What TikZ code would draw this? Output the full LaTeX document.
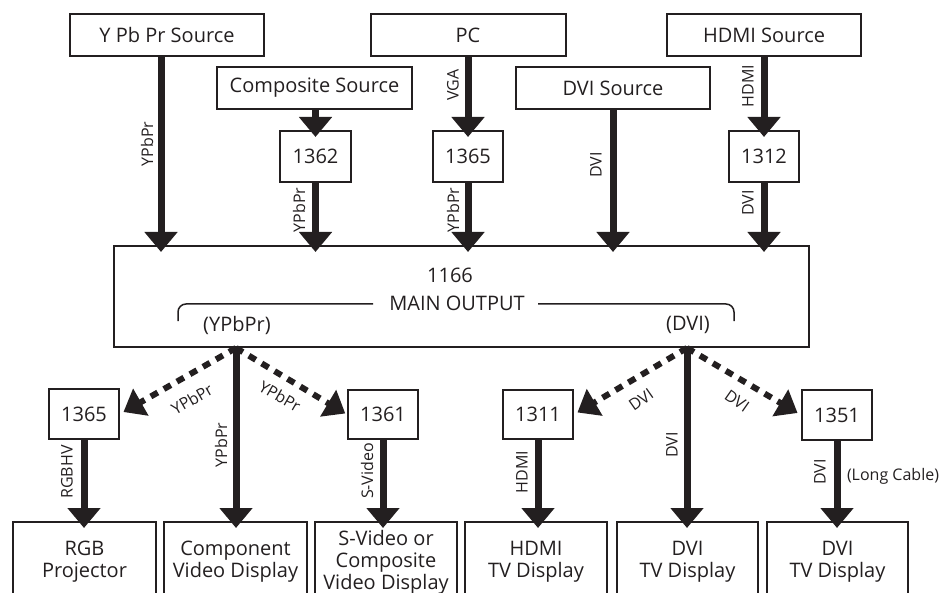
\documentclass[tikz,border=0pt]{standalone}
\usepackage{fontspec}
\setmainfont{Open Sans}
\usetikzlibrary{arrows.meta,calc}
\definecolor{ink}{HTML}{231F20}
\begin{document}
\begin{tikzpicture}[x=1pt,y=-1pt,
  box/.style={draw=ink, line width=2pt, inner sep=0pt, font=\fontsize{20}{22}\selectfont, text=ink, align=center},
  txt/.style={font=\fontsize{20}{22}\selectfont, text=ink, inner sep=0pt},
  lab/.style={font=\fontsize{16}{18}\selectfont, text=ink, inner sep=0pt},
  vlab/.style={lab, rotate=90},
  flow/.style={draw=ink, line width=7pt, -{Triangle[width=32pt,length=20pt]}, shorten >=-7pt},
  dflow/.style={draw=ink, line width=6pt, dash pattern=on 8pt off 7pt, -{Triangle[width=30pt,length=20pt]}},
]
\path[use as bounding box] (0,0) rectangle (952,593);
\begin{scope}
\clip (0,0) rectangle (952,593);
% sources
\node[box, minimum width=194pt, minimum height=42pt] (ypbsrc) at (167,35) {Y Pb Pr Source};
\node[box, minimum width=195pt, minimum height=42pt] (compsrc) at (314.5,88) {Composite Source};
\node[box, minimum width=195pt, minimum height=42pt] (pc) at (468,35) {PC};
\node[box, minimum width=194pt, minimum height=42pt] (dvisrc) at (613,88) {DVI Source};
\node[box, minimum width=194pt, minimum height=42pt] (hdmisrc) at (764,35) {HDMI Source};
% converters top
\node[box, minimum width=71pt, minimum height=51pt] (b1362) at (315.5,156.5) {1362};
\node[box, minimum width=70pt, minimum height=51pt] (b1365t) at (468,156.5) {1365};
\node[box, minimum width=70pt, minimum height=51pt] (b1312) at (764,156.5) {1312};
% main
\node[box, minimum width=695pt, minimum height=101pt] (main) at (461.5,296.5) {};
\node[txt] (t1166) at (450,275) {1166};
\node[txt] (tmain) at (457,303) {MAIN OUTPUT};
\node[txt] (typb) at (237,325) {(YPbPr)};
\node[txt] (tdvi) at (688,325) {(DVI)};
\draw[ink, line width=1.5pt, rounded corners=8pt] (178,321) -- (178,304) -- (373,304);
\draw[ink, line width=1.5pt, rounded corners=8pt] (538,304) -- (734,304) -- (734,321);
% converters bottom
\node[box, minimum width=70pt, minimum height=50pt] (b1365) at (84,414) {1365};
\node[box, minimum width=70pt, minimum height=49pt] (b1361) at (383,414.5) {1361};
\node[box, minimum width=70pt, minimum height=49pt] (b1311) at (538,414.5) {1311};
\node[box, minimum width=70pt, minimum height=50pt] (b1351) at (837,415) {1351};
% displays
\node[box, minimum width=143pt, minimum height=80pt, anchor=north] (rgb) at (84.5,521) {RGB\\Projector};
\node[box, minimum width=143pt, minimum height=80pt, anchor=north] (compd) at (235.5,521) {Component\\Video Display};
\node[box, minimum width=142pt, minimum height=80pt, anchor=north] (svid) at (386,521) {S-Video or\\Composite\\Video Display};
\node[box, minimum width=142pt, minimum height=80pt, anchor=north] (hdmitv) at (536,521) {HDMI\\TV Display};
\node[box, minimum width=141pt, minimum height=80pt, anchor=north] (dvitv) at (687.5,521) {DVI\\TV Display};
\node[box, minimum width=141pt, minimum height=80pt, anchor=north] (dvitv2) at (837.5,521) {DVI\\TV Display};
% top connectors
\coordinate (a1) at ($(ypbsrc.south)+(-6,0)$);
\draw[flow] (a1) -- (a1 |- main.north);
\draw[flow] (compsrc.south -| b1362.north) -- (b1362.north);
\draw[flow] (b1362.south) -- (b1362.south |- main.north);
\draw[flow] (pc.south -| b1365t.north) -- (b1365t.north);
\draw[flow] (b1365t.south) -- (b1365t.south |- main.north);
\draw[flow] (dvisrc.south) -- (dvisrc.south |- main.north);
\draw[flow] (hdmisrc.south) -- (b1312.north);
\draw[flow] (b1312.south) -- (b1312.south |- main.north);
% hubs
\coordinate (hubL) at ($(main.south west)+(123,0)$);
\coordinate (hubR) at ($(main.south west)+(574,0)$);
\draw[flow] (hubL) -- (hubL |- compd.north);
\draw[flow] (hubR) -- (hubR |- dvitv.north);
\draw[dflow, shorten >=4pt] (hubL) -- (b1365.east);
\draw[dflow, shorten >=2pt] (hubL) -- (b1361.west);
\draw[dflow, shorten >=4pt] (hubR) -- (b1311.east);
\draw[dflow, shorten >=4pt] (hubR) -- (b1351.west);
% bottom connectors
\draw[flow] (b1365.south) -- (b1365.south |- rgb.north);
\draw[flow] (b1361.south) -- (b1361.south |- svid.north);
\draw[flow] (b1311.south) -- (b1311.south |- hdmitv.north);
\draw[flow] (b1351.south) -- (b1351.south |- dvitv2.north);
% labels
\node[vlab] (l1) at (147,144) {YPbPr};
\node[vlab] (l2) at (453,85) {VGA};
\node[vlab] (l3) at (299,210) {YPbPr};
\node[vlab] (l4) at (453,210) {YPbPr};
\node[vlab] (l5) at (596,165) {DVI};
\node[vlab] (l6) at (748,86) {HDMI};
\node[vlab] (l7) at (748,203) {DVI};
\node[vlab] (l8) at (67,472) {RGBHV};
\node[vlab] (l9) at (221,445) {YPbPr};
\node[vlab] (l10) at (367,471) {S-Video};
\node[vlab] (l11) at (522,472) {HDMI};
\node[vlab] (l12) at (672,445) {DVI};
\node[vlab] (l13) at (820,472) {DVI};
\node[lab] (l14) at (893,476) {(Long Cable)};
\node[lab, rotate=30] (d1) at (192,399) {YPbPr};
\node[lab, rotate=-30] (d2) at (280,396) {YPbPr};
\node[lab, rotate=35] (d3) at (641,400) {DVI};
\node[lab, rotate=-35] (d4) at (737,401) {DVI};
\end{scope}
\end{tikzpicture}
\end{document}
